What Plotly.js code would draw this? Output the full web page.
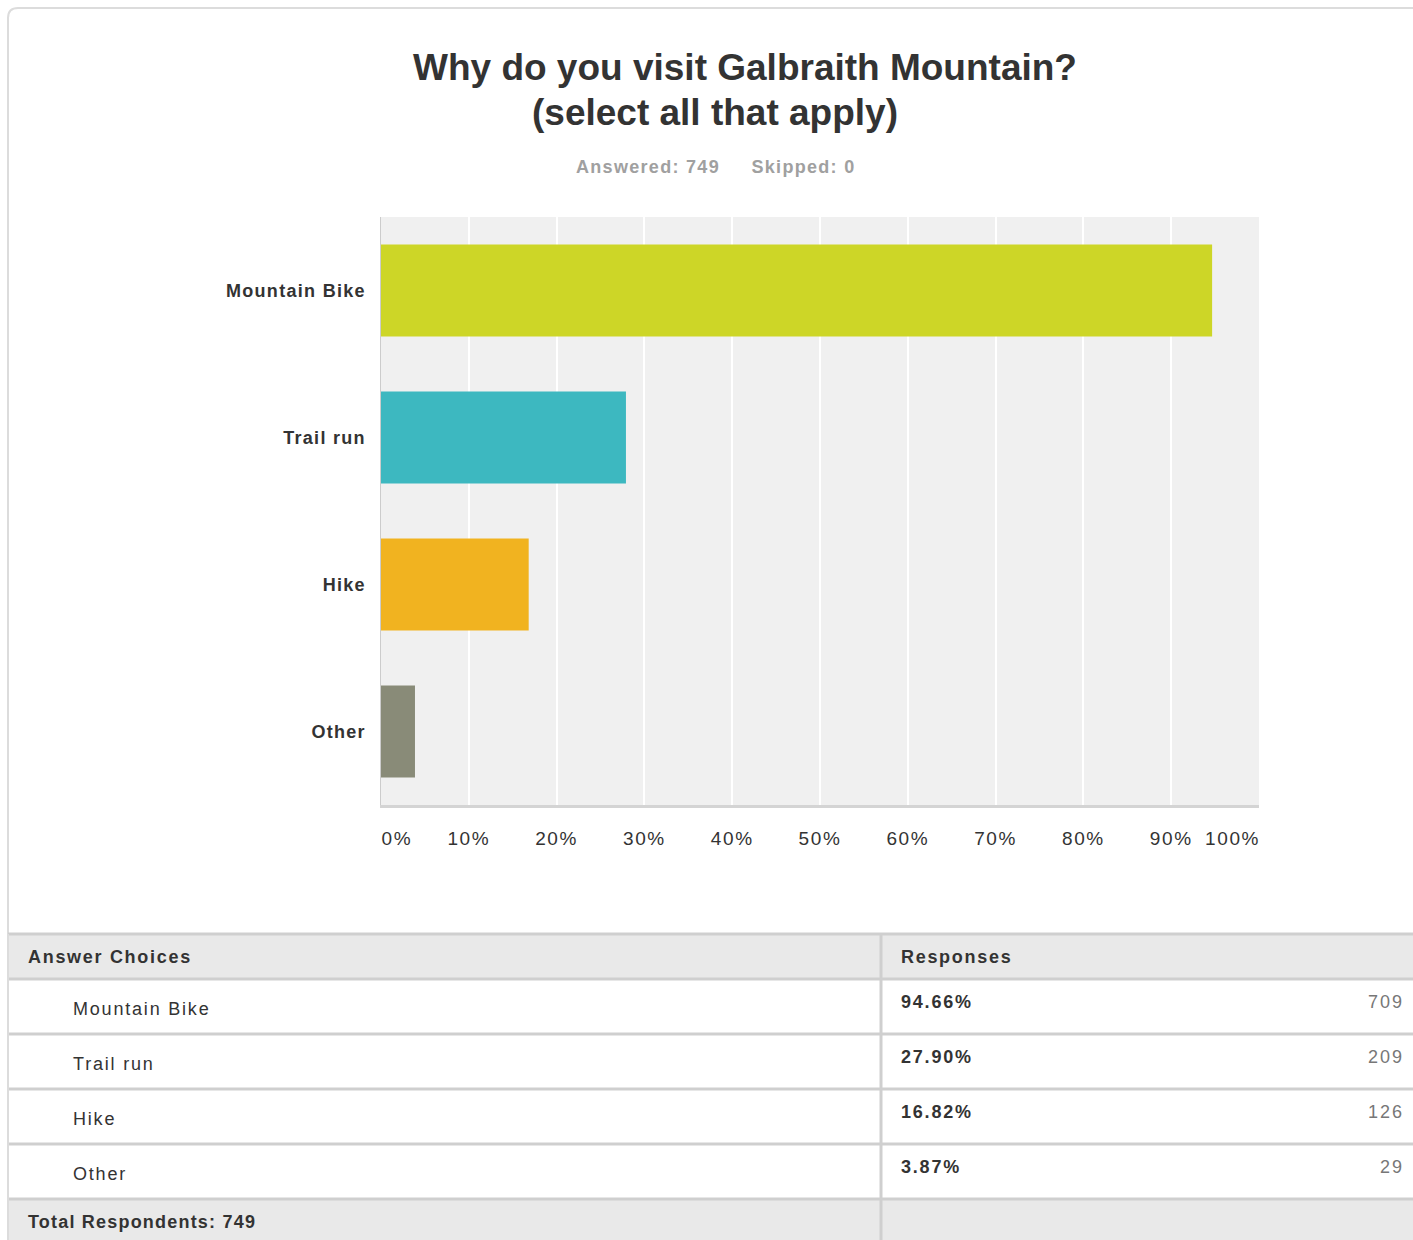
<!DOCTYPE html>
<html>
<head>
<meta charset="utf-8">
<script src="https://cdn.plot.ly/plotly-3.0.1.min.js"></script>
<style>
html,body{margin:0;padding:0;background:#fff;}
#chart{width:1413px;height:1240px;}
</style>
</head>
<body>
<div id="chart"></div>
<script>
// ---- data ----
const categories = ["Mountain Bike", "Trail run", "Hike", "Other"];
const percents = [94.66, 27.90, 16.82, 3.87];
const counts = [709, 209, 126, 29];
const barColors = ["#cdd627", "#3db8c0", "#f1b320", "#898b78"];
const xTickVals = [0, 10, 20, 30, 40, 50, 60, 70, 80, 90, 100];
const xTickText = ["0%", "10%", "20%", "30%", "40%", "50%", "60%", "70%", "80%", "90%", "100%"];
const titleLine1 = "Why do you visit Galbraith Mountain?";
const titleLine2 = "(select all that apply)";
const subtitleParts = ["Answered: 749", "Skipped: 0"];
const tableHeaders = ["Answer Choices", "Responses"];
const totalLabel = "Total Respondents: 749";

// ---- layout helpers (pixel -> paper) ----
const W = 1413, H = 1240;
const px = x => x / W;
const py = y => 1 - y / H;
const FONT = "Liberation Sans, Arial, Helvetica, sans-serif";
const ls = (t, s) => `<span style="letter-spacing:${s}px">${t}</span>`;
const nb = n => "&nbsp;".repeat(n);

const trace = {
  type: "bar",
  orientation: "h",
  y: categories,
  x: percents,
  marker: { color: barColors, line: { width: 0 } },
  width: 0.626,
  hoverinfo: "none"
};

const shapes = [];
const annotations = [];

// card border (rounded top-left)
shapes.push({
  type: "path", xref: "paper", yref: "paper",
  path: `M ${px(8)} ${py(1240)} L ${px(8)} ${py(18)} Q ${px(8)} ${py(8)} ${px(18)} ${py(8)} L ${px(1413)} ${py(8)}`,
  line: { color: "#dcdcdc", width: 2 }, layer: "below"
});

// table backgrounds
shapes.push({ type: "rect", xref: "paper", yref: "paper", x0: px(8), x1: px(1413), y0: py(934), y1: py(979),
  fillcolor: "#e9e9e9", line: { width: 0 }, layer: "below" });
shapes.push({ type: "rect", xref: "paper", yref: "paper", x0: px(8), x1: px(1413), y0: py(1199), y1: py(1240),
  fillcolor: "#e9e9e9", line: { width: 0 }, layer: "below" });

// horizontal table lines
const rowLines = [934, 979];
for (let i = 1; i <= categories.length; i++) rowLines.push(979 + 55 * i);
rowLines.forEach(y => shapes.push({ type: "line", xref: "paper", yref: "paper",
  x0: px(8), x1: px(1413), y0: py(y), y1: py(y), line: { color: "#cfcfcf", width: 3 } }));
// vertical divider and left edge
shapes.push({ type: "line", xref: "paper", yref: "paper", x0: px(881), x1: px(881), y0: py(934), y1: py(1240),
  line: { color: "#cfcfcf", width: 3 } });
shapes.push({ type: "line", xref: "paper", yref: "paper", x0: px(8), x1: px(8), y0: py(934), y1: py(1240),
  line: { color: "#dcdcdc", width: 2 } });

function ann(x, y, text, opts) {
  annotations.push(Object.assign({ xref: "paper", yref: "paper", x: px(x), y: py(y), text: text,
    showarrow: false, xanchor: "left", yanchor: "middle", borderpad: 0,
    font: { family: FONT, size: 18, color: "#333333" } }, opts || {}));
}

// titles
ann(745, 68, "<b>" + titleLine1 + "</b>", { xanchor: "center", font: { family: FONT, size: 37, color: "#333333" } });
ann(715, 112, "<b>" + titleLine2 + "</b>", { xanchor: "center", font: { family: FONT, size: 37, color: "#333333" } });
ann(715, 167, "<b>" + ls(subtitleParts[0] + nb(5) + subtitleParts[1], 1.3) + "</b>",
  { xanchor: "center", font: { family: FONT, size: 18, color: "#a0a0a0" } });

// table header
ann(27, 957, "<b>" + ls(tableHeaders[0], 1.7) + "</b>");
ann(900, 957, "<b>" + ls(tableHeaders[1], 1.7) + "</b>");

// table rows
categories.forEach((c, i) => {
  const yl = 1009 + 55 * i, yv = 1002 + 55 * i;
  ann(72, yl, ls(c, 1.8));
  ann(900, yv, "<b>" + ls(percents[i].toFixed(2) + "%", 1.8) + "</b>");
  ann(1405, yv, ls(String(counts[i]), 2), { xanchor: "right", font: { family: FONT, size: 18, color: "#777777" } });
});
ann(27, 1222, "<b>" + ls(totalLabel, 1.2) + "</b>");

// x tick labels: first label sits inside the left edge, last inside the right edge
const xTickShown = xTickText.map((t, i) => {
  let s = ls(t, 1.6);
  if (i === 0) s = nb(6) + s;
  if (i === xTickText.length - 1) s = s + nb(10);
  return s;
});

const layout = {
  width: W, height: H,
  margin: { l: 0, r: 0, t: 0, b: 0, pad: 0 },
  paper_bgcolor: "#ffffff",
  plot_bgcolor: "#f0f0f0",
  showlegend: false,
  xaxis: {
    domain: [px(381), px(1259)],
    range: [0, 100],
    tickvals: xTickVals,
    ticktext: xTickShown,
    showgrid: true, gridcolor: "#ffffff", gridwidth: 2,
    zeroline: false,
    showline: true, linecolor: "#d4d4d4", linewidth: 3,
    ticks: "", ticklabelstandoff: 14,
    tickfont: { family: FONT, size: 19, color: "#333333" },
    fixedrange: true
  },
  yaxis: {
    domain: [py(805), py(217)],
    type: "category",
    categoryorder: "array",
    categoryarray: categories,
    tickvals: categories,
    ticktext: categories.map(c => ls(c, 1.3)),
    autorange: "reversed",
    showgrid: false, zeroline: false,
    showline: true, linecolor: "#cccccc", linewidth: 1.5,
    ticks: "", ticklabelstandoff: 10,
    tickfont: { family: FONT, size: 18, color: "#333333", weight: "bold" },
    fixedrange: true
  },
  shapes: shapes,
  annotations: annotations
};

Plotly.newPlot("chart", [trace], layout, { displayModeBar: false, staticPlot: true });
</script>
</body>
</html>
